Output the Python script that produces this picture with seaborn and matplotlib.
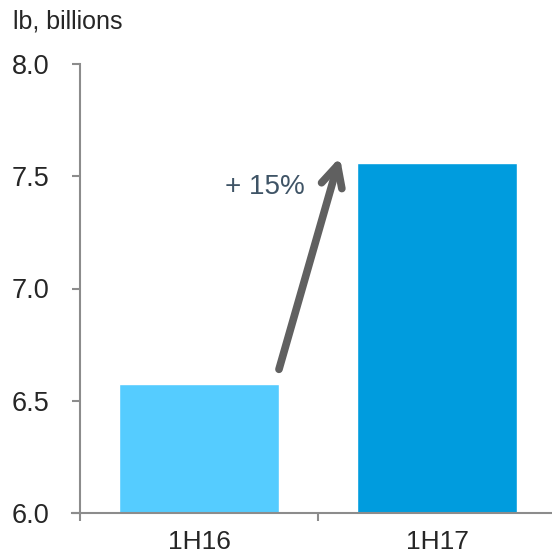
import matplotlib
matplotlib.use("Agg")
import matplotlib.pyplot as plt
import seaborn as sns

periods = ["1H16", "1H17"]
volumes = [6.575, 7.56]
bar_colors = ["#55CCFF", "#009CDE"]
change_label = "+ 15%"
y_ticks = [6.0, 6.5, 7.0, 7.5, 8.0]

sns.set_style("white")
plt.rcParams["font.family"] = ["Liberation Sans", "DejaVu Sans"]

fig = plt.figure(figsize=(5.52, 5.54), dpi=100)
ax = fig.add_axes([80 / 552, 1 - 513 / 554, 476 / 552, 449 / 554])

sns.barplot(x=periods, y=volumes, hue=periods, palette=bar_colors,
            width=0.67, saturation=1, legend=False, ax=ax)

ax.set_xlim(-0.5, 1.5)
ax.set_ylim(6.0, 8.0)
ax.set_yticks(y_ticks)
ax.set_yticklabels([f"{v:.1f}" for v in y_ticks])
ax.set_xticks([0, 1])
ax.set_xticks([-0.5, 0.5, 1.5], minor=True)
ax.set_xlabel("")
ax.set_ylabel("")

spine_col = "#8C8C8C"
for side in ["top", "right"]:
    ax.spines[side].set_visible(False)
for side in ["left", "bottom"]:
    ax.spines[side].set_color(spine_col)
    ax.spines[side].set_linewidth(1.5)
ax.spines["bottom"].set_bounds(-0.535, 1.5)

ax.tick_params(axis="y", which="major", direction="out", length=6, width=1.5,
               color=spine_col, labelsize=19.5, pad=16, left=True)
ax.tick_params(axis="x", which="major", length=0, labelsize=19, pad=12)
ax.tick_params(axis="x", which="minor", direction="out", length=6, width=1.5,
               color=spine_col, bottom=True)

# growth arrow between the two bars
arr = ax.annotate("", xy=(0.592, 7.585), xytext=(0.336, 6.64),
                  arrowprops=dict(arrowstyle="->", lw=5.5, color="#606060",
                                  mutation_scale=38, shrinkA=0, shrinkB=0))
arr.arrow_patch.set_capstyle("round")
arr.arrow_patch.set_joinstyle("round")
ax.text(0.445, 7.45, change_label, ha="right", va="center",
        fontsize=20, color="#3F5466")

fig.text(13 / 552, 1 - 22 / 554, "lb, billions", ha="left", va="center", fontsize=18)

fig.savefig("out.png", dpi=100)
